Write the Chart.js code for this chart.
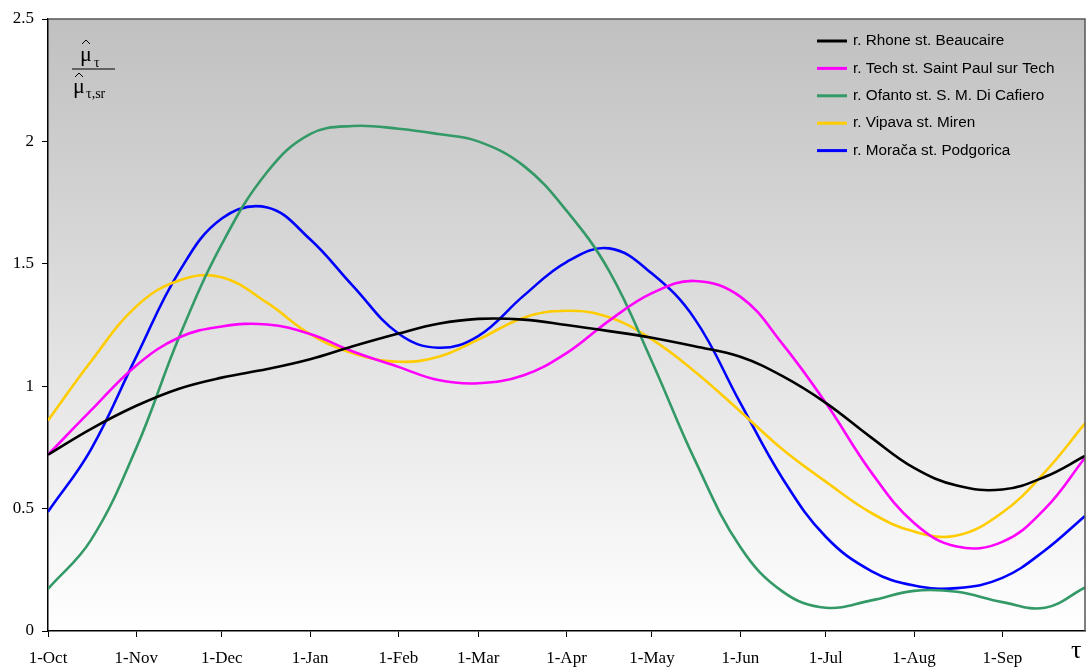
<!DOCTYPE html>
<html>
<head>
<meta charset="utf-8">
<script src="https://cdn.jsdelivr.net/npm/chart.js@4.4.0/dist/chart.umd.min.js"></script>
<style>
  body { margin: 0; background: #fff; }
  #wrap { position: relative; width: 1086px; height: 667px; }
</style>
</head>
<body>
<div id="wrap"><canvas id="chart" width="1086" height="667"></canvas></div>
<script>
// day of the hydrological year (0 = 1-Oct)
const days = [0, 15, 31, 46, 61, 77, 92, 107, 123, 137, 151, 167, 182, 197, 212, 227, 243, 258, 273, 289, 304, 319, 335, 350, 364];

const monthDays = [0, 31, 61, 92, 123, 151, 182, 212, 243, 273, 304, 335];
const monthLabels = ["1-Oct", "1-Nov", "1-Dec", "1-Jan", "1-Feb", "1-Mar", "1-Apr", "1-May", "1-Jun", "1-Jul", "1-Aug", "1-Sep"];

const rhone   = [0.72, 0.825, 0.92, 0.99, 1.035, 1.07, 1.11, 1.163, 1.215, 1.255, 1.275, 1.272, 1.25, 1.225, 1.198, 1.163, 1.12, 1.04, 0.932, 0.79, 0.666, 0.594, 0.578, 0.63, 0.715];
const tech    = [0.72, 0.9, 1.085, 1.199, 1.244, 1.252, 1.213, 1.142, 1.079, 1.025, 1.012, 1.045, 1.135, 1.268, 1.38, 1.43, 1.366, 1.17, 0.932, 0.648, 0.441, 0.345, 0.364, 0.5, 0.708];
const ofanto  = [0.172, 0.37, 0.748, 1.2, 1.58, 1.876, 2.03, 2.063, 2.052, 2.03, 2.0, 1.9, 1.717, 1.47, 1.1, 0.7, 0.343, 0.16, 0.095, 0.125, 0.164, 0.16, 0.118, 0.095, 0.178];
const vipava  = [0.86, 1.1, 1.326, 1.432, 1.445, 1.34, 1.213, 1.135, 1.1, 1.12, 1.19, 1.28, 1.308, 1.282, 1.191, 1.06, 0.897, 0.74, 0.61, 0.482, 0.406, 0.39, 0.484, 0.65, 0.848];
const moraca  = [0.487, 0.74, 1.121, 1.467, 1.685, 1.73, 1.6, 1.41, 1.215, 1.157, 1.205, 1.37, 1.507, 1.563, 1.46, 1.275, 0.932, 0.62, 0.385, 0.245, 0.186, 0.175, 0.217, 0.33, 0.47];

const seriesNames = ["r. Rhone st. Beaucaire", "r. Tech st. Saint Paul sur Tech", "r. Ofanto st. S. M. Di Cafiero", "r. Vipava st. Miren", "r. Morača st. Podgorica"];
const seriesValues = [rhone, tech, ofanto, vipava, moraca];
const seriesColors = ["#000000", "#ff00ff", "#339966", "#ffcc00", "#0000ff"];

const serif = "'Liberation Serif', 'Times New Roman', serif";
const sans = "'Liberation Sans', Arial, sans-serif";

// grey-to-white plot background
const plotBackground = {
  id: "plotBackground",
  beforeDraw(chart) {
    const { ctx, chartArea: a } = chart;
    const g = ctx.createLinearGradient(0, a.top, 0, a.bottom);
    g.addColorStop(0, "#c0c0c0");
    g.addColorStop(1, "#ffffff");
    ctx.save();
    ctx.fillStyle = g;
    ctx.fillRect(a.left, a.top, a.right - a.left, a.bottom - a.top);
    ctx.restore();
  }
};

function hat(ctx, x, y) {
  ctx.beginPath();
  ctx.moveTo(x - 4, y + 4);
  ctx.lineTo(x, y);
  ctx.lineTo(x + 4, y + 4);
  ctx.stroke();
}

// frame, legend, axis symbols
const decorations = {
  id: "decorations",
  afterDraw(chart) {
    const { ctx, chartArea: a } = chart;
    ctx.save();

    // top and right frame
    ctx.strokeStyle = "#555555";
    ctx.lineWidth = 1.5;
    ctx.beginPath();
    ctx.moveTo(a.left, a.top);
    ctx.lineTo(a.right, a.top);
    ctx.lineTo(a.right, a.bottom);
    ctx.stroke();

    // legend
    ctx.font = "15.3px " + sans;
    ctx.textBaseline = "middle";
    ctx.textAlign = "left";
    chart.data.datasets.forEach((ds, i) => {
      const y = 41 + i * 27.4;
      ctx.strokeStyle = ds.borderColor;
      ctx.lineWidth = 3;
      ctx.beginPath();
      ctx.moveTo(817, y);
      ctx.lineTo(847, y);
      ctx.stroke();
      ctx.fillStyle = "#000";
      ctx.fillText(ds.label, 853, y);
    });

    // y label: mu-hat_tau / mu-hat_tau,sr
    ctx.fillStyle = "#000";
    ctx.strokeStyle = "#000";
    ctx.lineWidth = 1;
    ctx.textBaseline = "alphabetic";
    ctx.font = "22px " + serif;
    ctx.fillText("μ", 80, 61);
    hat(ctx, 86, 40);
    ctx.font = "14px " + serif;
    ctx.fillText("τ", 94, 67);
    ctx.beginPath();
    ctx.moveTo(72, 69);
    ctx.lineTo(115, 69);
    ctx.stroke();
    ctx.font = "22px " + serif;
    ctx.fillText("μ", 73, 93);
    hat(ctx, 79, 73);
    ctx.font = "14px " + serif;
    ctx.fillText("τ,sr", 86, 98);

    // x symbol
    ctx.font = "26px " + serif;
    ctx.fillText("τ", 1071, 658);

    ctx.restore();
  }
};

new Chart(document.getElementById("chart"), {
  type: "line",
  data: {
    datasets: seriesNames.map((name, i) => ({
      label: name,
      data: days.map((d, k) => ({ x: d, y: seriesValues[i][k] })),
      borderColor: seriesColors[i],
      borderWidth: 2.6,
      pointRadius: 0,
      tension: 0.4,
      fill: false
    }))
  },
  options: {
    responsive: false,
    animation: false,
    layout: { padding: { top: 19, right: 1, left: 0, bottom: 0 } },
    plugins: {
      legend: { display: false },
      tooltip: { enabled: false }
    },
    scales: {
      x: {
        type: "linear",
        min: 0,
        max: 364,
        afterBuildTicks(axis) {
          axis.ticks = monthDays.map(v => ({ value: v }));
        },
        afterFit(axis) { axis.height = 36; },
        grid: { drawOnChartArea: false, drawTicks: true, tickLength: 6, color: "#000" },
        border: { display: true, color: "#000", width: 1.5 },
        ticks: {
          autoSkip: false,
          maxRotation: 0,
          padding: 11,
          color: "#000",
          font: { family: serif, size: 17 },
          callback: (v) => monthLabels[monthDays.indexOf(v)]
        }
      },
      y: {
        min: 0,
        max: 2.5,
        afterFit(axis) { axis.width = 48; },
        grid: { drawOnChartArea: false, drawTicks: true, tickLength: 6, color: "#000" },
        border: { display: true, color: "#000", width: 1.5 },
        ticks: {
          stepSize: 0.5,
          padding: 8,
          color: "#000",
          font: { family: serif, size: 17 },
          callback: (v) => String(v)
        }
      }
    }
  },
  plugins: [plotBackground, decorations]
});
</script>
</body>
</html>
